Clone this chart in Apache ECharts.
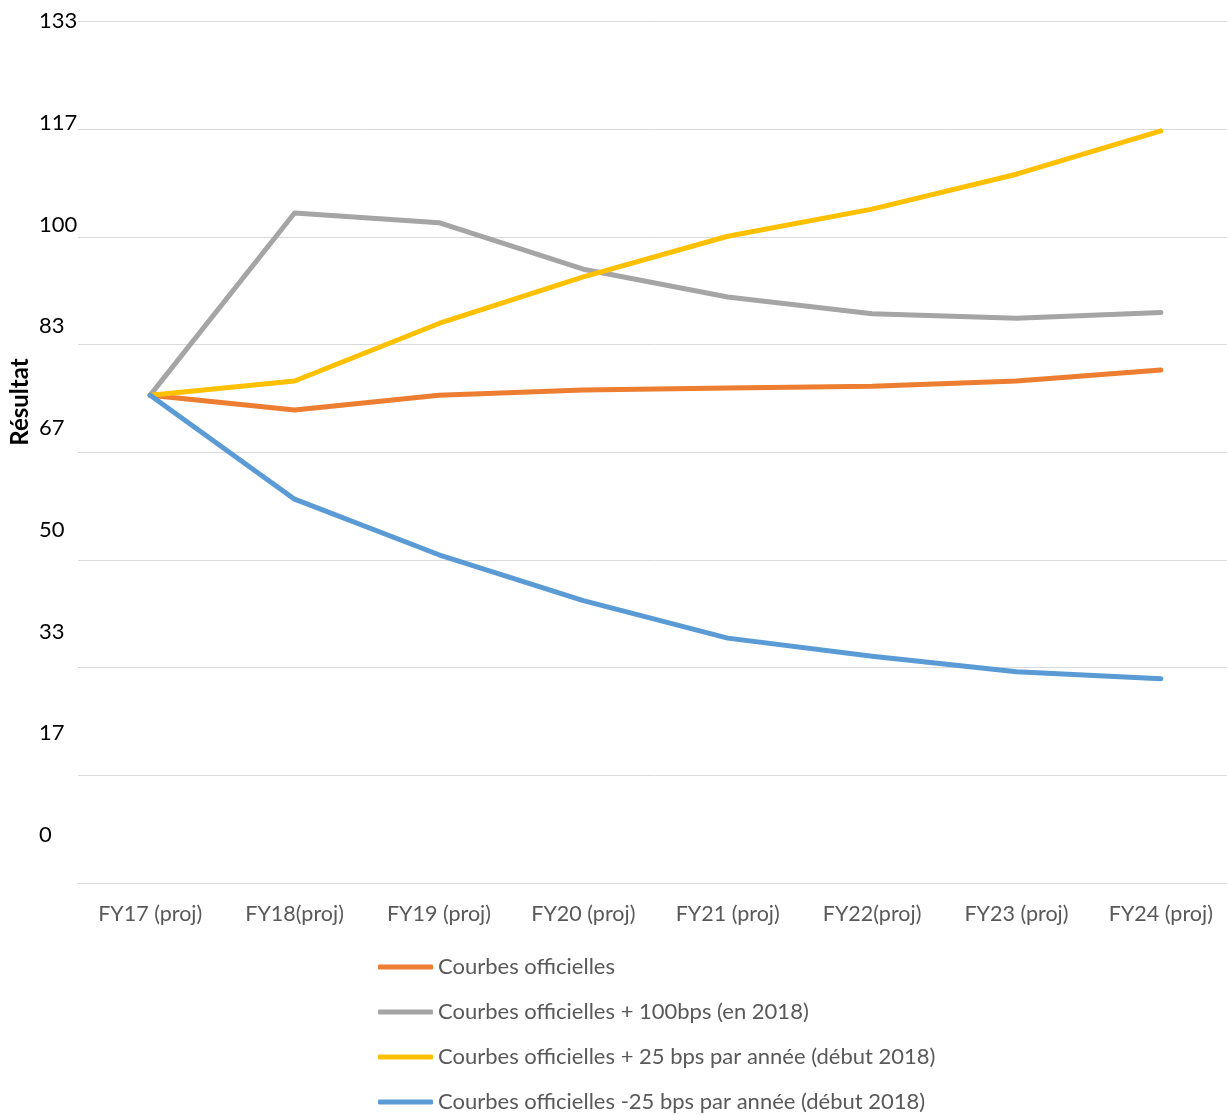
<!DOCTYPE html>
<html>
<head>
<meta charset="utf-8">
<script src="https://cdn.jsdelivr.net/npm/echarts@6/dist/echarts.min.js"></script>
<style>
  html, body { margin: 0; padding: 0; background: #ffffff; overflow: hidden; }
  /* the plot area runs slightly past the right edge of the window */
  #chart { width: 1233px; height: 1115px; }
</style>
</head>
<body>
<div id="chart"></div>
<script>
// Fiscal years on the horizontal axis
const categories = ['FY17 (proj)', 'FY18(proj)', 'FY19 (proj)', 'FY20 (proj)', 'FY21 (proj)', 'FY22(proj)', 'FY23 (proj)', 'FY24 (proj)'];

// Result per scenario
const officielles   = [75.5, 73.2, 75.5, 76.3, 76.6, 76.9, 77.7, 79.4];
const plus100bps    = [75.5, 103.7, 102.2, 95.0, 90.7, 88.1, 87.4, 88.3];
const plus25bpsAn   = [75.5, 77.7, 86.6, 93.8, 100.1, 104.3, 109.7, 116.4];
const moins25bpsAn  = [75.5, 59.4, 50.8, 43.7, 37.9, 35.1, 32.7, 31.6];

const seriesNames = [
  'Courbes officielles',
  'Courbes officielles + 100bps (en 2018)',
  'Courbes officielles + 25 bps par année (début 2018)',
  'Courbes officielles -25 bps par année (début 2018)'
];

// Value axis: eight steps of 16 2/3
const yStep = 50 / 3;
const yMax = 8 * yStep;

const colors = ['#ED7D31', '#A5A5A5', '#FFC000', '#5B9BD5'];
const font = 'Lato, "Noto Sans", sans-serif';

const chart = echarts.init(document.getElementById('chart'), null, { renderer: 'canvas' });

const values = [officielles, plus100bps, plus25bpsAn, moins25bpsAn];

chart.setOption({
  animation: false,
  backgroundColor: '#ffffff',
  color: colors,
  textStyle: { fontFamily: font },
  grid: [
    { left: 78, right: 0, top: 21.5, height: 861.5, containLabel: false },
    // grid carrying only the value labels on the left
    { left: 39, top: 21, width: 1, height: 814, containLabel: false }
  ],
  xAxis: [
    {
      type: 'category',
      gridIndex: 0,
      data: categories,
      boundaryGap: true,
      axisLine: { lineStyle: { color: '#d9d9d9', width: 1 } },
      axisTick: { show: false },
      axisLabel: { color: '#595959', fontSize: 21.5, fontFamily: font, margin: 20, interval: 0 }
    },
    { type: 'value', gridIndex: 1, show: false }
  ],
  yAxis: [
    {
      type: 'value',
      gridIndex: 0,
      min: 0,
      max: yMax,
      interval: yStep,
      axisLine: { show: false },
      axisTick: { show: false },
      axisLabel: { show: false },
      splitLine: { lineStyle: { color: '#d9d9d9', width: 1 } }
    },
    {
      type: 'value',
      gridIndex: 1,
      min: 0,
      max: yMax,
      interval: yStep,
      axisLine: { show: false },
      axisTick: { show: false },
      splitLine: { show: false },
      axisLabel: {
        inside: true,
        margin: 0,
        color: '#000000',
        fontSize: 22,
        fontFamily: font,
        formatter: v => String(Math.round(v))
      }
    }
  ],
  legend: {
    orient: 'vertical',
    left: 378,
    top: 956,
    padding: 0,
    height: 159,
    itemWidth: 55,
    itemHeight: 5,
    itemGap: 23,
    icon: 'roundRect',
    data: seriesNames,
    textStyle: { color: '#595959', fontSize: 22, fontFamily: font, lineHeight: 22 }
  },
  graphic: [
    {
      type: 'text',
      x: 20,
      y: 402,
      rotation: Math.PI / 2,
      style: {
        text: 'Résultat',
        fill: '#000000',
        font: 'bold 24px ' + font,
        align: 'center',
        verticalAlign: 'middle'
      }
    }
  ],
  series: seriesNames.map((name, i) => ({
    name: name,
    type: 'line',
    xAxisIndex: 0,
    yAxisIndex: 0,
    data: values[i],
    symbol: 'none',
    lineStyle: { width: 5, color: colors[i], cap: 'round', join: 'round' },
    itemStyle: { color: colors[i] },
    emphasis: { disabled: true }
  }))
});
</script>
</body>
</html>
